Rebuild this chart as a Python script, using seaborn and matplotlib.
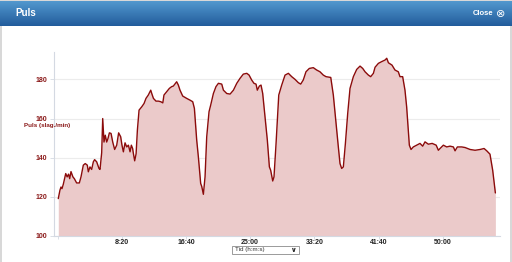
import numpy as np
import pandas as pd
import matplotlib
matplotlib.use("Agg")
import matplotlib.pyplot as plt
import seaborn as sns
from matplotlib.patches import Rectangle

# ---- data ----
time_s = [6, 19, 27, 35, 45, 64, 75, 86, 95, 105, 120, 131, 149, 170, 183, 201, 216, 232, 240, 253,
          266, 279, 289, 305, 323, 331, 344, 352, 362, 372, 383, 393, 404, 417, 430, 445, 461, 476, 492, 502,
          513, 526, 539, 552, 565, 575, 585, 590, 601, 612, 622, 635, 656, 674, 689, 707, 726, 734, 747, 767,
          786, 804, 820, 829, 850, 871, 889, 902, 918, 928, 941, 954, 975, 993, 1006, 1032, 1053, 1066, 1084, 1097,
          1115, 1123, 1136, 1149, 1162, 1180, 1193, 1214, 1234, 1253, 1279, 1292, 1318, 1344, 1370, 1396, 1421, 1447, 1474, 1492,
          1512, 1530, 1546, 1556, 1572, 1585, 1598, 1616, 1634, 1650, 1660, 1676, 1686, 1702, 1723, 1746, 1772, 1798, 1824, 1850,
          1876, 1894, 1914, 1935, 1961, 1992, 2018, 2044, 2070, 2091, 2128, 2148, 2169, 2187, 2200, 2213, 2226, 2242, 2260, 2278,
          2304, 2330, 2356, 2377, 2395, 2421, 2439, 2460, 2473, 2499, 2525, 2551, 2564, 2577, 2605, 2628, 2654, 2667, 2688, 2706,
          2719, 2732, 2740, 2753, 2771, 2797, 2823, 2844, 2862, 2888, 2918, 2949, 2966, 2979, 3005, 3031, 3057, 3083, 3096, 3114,
          3148, 3174, 3213, 3252, 3291, 3322, 3343, 3368, 3389, 3410]
bpm = [119.1, 123.4, 125, 124.2, 126.4, 131.9, 130.2, 131.6, 129.3, 132.9, 130.2, 129.3, 127.1, 127.1, 130.2, 136.2, 137, 136.2, 132.8, 135.3,
       134, 137.9, 139, 137.9, 134.5, 134, 142.5, 160, 148, 151.5, 148, 149.8, 152.7, 152.4, 148, 144.2, 146.4, 152.7, 150.7, 146.4,
       143, 147.6, 145.5, 146.4, 143, 146.4, 144.7, 142.5, 138.4, 142, 154, 164.3, 166, 167.7, 170.3, 172, 174.5, 172.8, 170.3, 168.9,
       168.9, 168.6, 168, 172, 173.7, 175.4, 176.3, 176.6, 178, 178.8, 177.1, 174.5, 171.5, 170.8, 170.3, 169.4, 168.6, 165.2, 149, 140.4,
       126.8, 125.4, 121.3, 130.2, 150.7, 163.5, 166.9, 172.8, 176.3, 178, 177.6, 174.5, 172.8, 172.5, 174.5, 178, 180.5, 182.7, 183.1, 182.2,
       179.7, 178, 177.6, 174.5, 176.6, 177.1, 172.8, 160.9, 149, 135.3, 133.6, 128.1, 130.2, 147.3, 172, 177.1, 182.2, 183.1, 181.4, 180,
       178.3, 177.6, 179.7, 183.9, 185.6, 186, 184.8, 183.9, 182.2, 181.4, 181, 172, 157.5, 145.5, 137, 134.5, 135.3, 147.3, 162.6, 175.4,
       181.4, 185.1, 186.8, 185.6, 183.9, 182.2, 181.4, 183.1, 186.2, 188.2, 189.1, 189.9, 190.8, 188.5, 187.3, 184.8, 183.9, 181.4, 181.4, 174.5,
       166, 154, 146.4, 144.2, 145.5, 146.4, 147.3, 145.9, 148.1, 146.9, 147.3, 146.4, 143.8, 144.7, 146.4, 145.5, 145.9, 145.5, 143.5, 145.5,
       145.5, 145.2, 144.2, 143.8, 144.2, 144.7, 143.5, 141.8, 133.6, 122]
x_ticks = [0, 500, 1000, 1500, 2000, 2500, 3000]
x_tick_labels = ["", "8:20", "16:40", "25:00", "33:20", "41:40", "50:00"]
y_ticks = [100, 120, 140, 160, 180]
y_tick_labels = ["100", "120", "140", "160", "180"]

df = pd.DataFrame({"t": time_s, "bpm": bpm})

sns.set_theme(style="white")
plt.rcParams["font.family"] = ["Liberation Sans", "DejaVu Sans"]

W, H = 512, 262
fig = plt.figure(figsize=(W / 100, H / 100), dpi=100)
fig.patch.set_facecolor("white")

# title bar with gradient
bar_y0, bar_y1 = 1, 26
tax = fig.add_axes([0, 1 - bar_y1 / H, 1, (bar_y1 - bar_y0) / H])
top = np.array([82, 152, 206]) / 255
bot = np.array([34, 92, 156]) / 255
grad = np.linspace(0, 1, 50)[:, None, None]
img = top * (1 - grad) + bot * grad
img = np.repeat(img, 2, axis=1)
tax.imshow(img, aspect="auto", extent=[0, 1, 0, 1])
tax.set_xlim(0, 1)
tax.set_ylim(0, 1)
tax.axis("off")
tax.text(15 / W, 0.5, "Puls", color="white", fontsize=7, fontweight="bold", va="center", ha="left")
tax.text(493 / W, 0.5, "Close", color="white", fontsize=5.5, fontweight="bold", va="center", ha="right")
tax.text(501 / W, 0.48, "\u2297", color="white", fontsize=8, va="center", ha="center", family="DejaVu Sans")

# grey borders
fig.add_artist(Rectangle((0, 1 - 1 / H), 1, 1 / H, transform=fig.transFigure, color="#d8d8d8", lw=0))
fig.add_artist(Rectangle((0, 0), 2 / W, 1 - bar_y1 / H, transform=fig.transFigure, color="#d8d8d8", lw=0))
fig.add_artist(Rectangle((1 - 2 / W, 0), 2 / W, 1 - bar_y1 / H, transform=fig.transFigure, color="#d8d8d8", lw=0))

# chart
left, right = 54.3, 500
top_px, bot_px = 52, 236
ax = fig.add_axes([left / W, 1 - bot_px / H, (right - left) / W, (bot_px - top_px) / H])
ax.set_facecolor("white")
line_col = "#8b0b0b"
ax.fill_between(df["t"], 100, df["bpm"], color="#ebcaca", lw=0, zorder=1)
sns.lineplot(data=df, x="t", y="bpm", ax=ax, color=line_col, lw=1.0, zorder=3)
ax.set_xlim(-25, 3446)
ax.set_ylim(100, 194)
ax.set_yticks(y_ticks)
ax.set_yticklabels(y_tick_labels)
ax.set_xticks(x_ticks)
ax.set_xticklabels(x_tick_labels)
ax.grid(axis="y", color="#ececec", lw=0.8, zorder=0)
ax.set_axisbelow(True)
for s in ["top", "right"]:
    ax.spines[s].set_visible(False)
for s in ["left", "bottom"]:
    ax.spines[s].set_color("#d4d9e2")
    ax.spines[s].set_linewidth(0.8)
ax.tick_params(axis="y", colors="#d4d9e2", labelcolor="#8b1a1a", labelsize=5, length=3, width=0.6, pad=2)
ax.tick_params(axis="x", colors="#d4d9e2", labelcolor="#222222", labelsize=5, length=2, width=0.6, pad=0.3)
ax.tick_params(axis="y", left=True)
ax.tick_params(axis="x", bottom=True)
for lbl in ax.get_yticklabels() + ax.get_xticklabels():
    lbl.set_fontweight("bold")
ax.set_xlabel("")
ax.set_ylabel("")

# y axis label (horizontal)
fig.text(24 / W, 1 - 125.5 / H, "Puls (slag./min)", color="#8b1a1a", fontsize=4.5,
         fontweight="bold", va="center", ha="left")

# x axis selector box
bx0, bx1, by0, by1 = 232, 299, 245.7, 253.5
fig.add_artist(Rectangle((bx0 / W, 1 - by1 / H), (bx1 - bx0) / W, (by1 - by0) / H,
                         transform=fig.transFigure, facecolor="white", edgecolor="#8a8a8a", lw=0.6))
fig.text(235 / W, 1 - 249.6 / H, "Tid (h:m:s)", color="#333333", fontsize=4.5, va="center", ha="left")
fig.text(294 / W, 1 - 249.6 / H, "\u2228", color="#222222", fontsize=5, va="center", ha="center",
         family="DejaVu Sans", fontweight="bold")

fig.savefig("out.png", dpi=100, facecolor="white")
